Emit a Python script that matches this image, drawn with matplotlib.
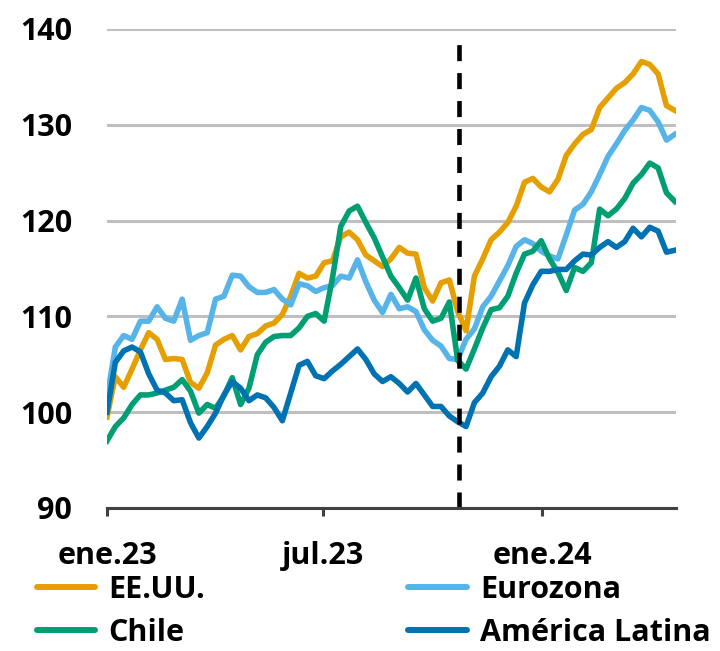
import matplotlib
matplotlib.use('Agg')
import matplotlib.pyplot as plt
from matplotlib.lines import Line2D
import pandas as pd

plt.rcParams['font.family'] = ['Open Sans', 'DejaVu Sans']
plt.rcParams['font.weight'] = 'bold'

# weekly index values (base ~100 at start of 2023)
dates = pd.date_range('2023-01-01', periods=69, freq='7D')

eeuu = [99.5, 103.7, 102.6, 104.5, 106.5, 108.3, 107.6, 105.5, 105.6, 105.5,
        103.1, 102.5, 104.1, 107.0, 107.6, 108.0, 106.5, 107.9, 108.2, 109.0,
        109.3, 110.2, 112.1, 114.5, 114.0, 114.2, 115.6, 115.8, 118.3, 118.8,
        118.0, 116.4, 115.8, 115.2, 116.0, 117.2, 116.6, 116.5, 113.0, 111.6,
        113.5, 113.8, 110.5, 108.5, 114.2, 116.0, 118.0, 118.8, 119.8, 121.5,
        124.0, 124.4, 123.5, 123.0, 124.3, 126.8, 128.0, 129.0, 129.5, 131.8,
        132.8, 133.8, 134.4, 135.3, 136.6, 136.3, 135.3, 132.0, 131.5]

eurozona = [101.5, 106.8, 108.0, 107.6, 109.5, 109.5, 111.0, 109.8, 109.5, 111.8,
            107.5, 108.0, 108.3, 111.8, 112.1, 114.3, 114.2, 113.1, 112.5, 112.5,
            112.8, 111.8, 111.2, 113.4, 113.2, 112.6, 113.0, 113.2, 114.2, 114.0,
            115.9, 113.6, 111.7, 110.4, 112.3, 110.8, 111.0, 110.5, 108.6, 107.5,
            106.9, 105.6, 105.5, 107.6, 108.7, 111.0, 112.1, 113.7, 115.3, 117.3,
            118.0, 117.6, 116.8, 116.3, 116.0, 118.5, 121.1, 121.7, 123.0, 124.8,
            126.7, 128.0, 129.4, 130.5, 131.8, 131.5, 130.3, 128.4, 129.0]

chile = [97.0, 98.5, 99.4, 100.8, 101.8, 101.8, 102.0, 102.3, 102.6, 103.4,
         102.2, 99.9, 100.8, 100.4, 101.7, 103.6, 100.8, 102.5, 106.0, 107.3,
         107.9, 108.0, 108.0, 108.8, 110.0, 110.3, 109.5, 114.0, 119.4, 121.0,
         121.5, 119.8, 118.2, 116.2, 114.2, 113.0, 111.7, 114.0, 110.8, 109.5,
         109.8, 111.5, 105.4, 104.5, 106.6, 108.8, 110.7, 110.9, 112.1, 114.5,
         116.5, 116.8, 117.9, 116.0, 114.6, 112.7, 115.1, 114.7, 115.6, 121.2,
         120.5, 121.2, 122.3, 123.9, 124.8, 126.0, 125.5, 122.9, 122.0]

latam = [100.0, 105.2, 106.4, 106.8, 106.3, 104.0, 102.3, 102.0, 101.2, 101.3,
         98.9, 97.3, 98.5, 99.9, 101.8, 103.2, 102.5, 101.2, 101.8, 101.5,
         100.5, 99.1, 102.0, 104.9, 105.3, 103.8, 103.5, 104.3, 105.0, 105.8,
         106.6, 105.5, 104.0, 103.2, 103.7, 103.0, 102.1, 103.0, 101.8, 100.6,
         100.6, 99.6, 99.0, 98.5, 101.0, 102.0, 103.7, 104.8, 106.5, 105.8,
         111.4, 113.3, 114.7, 114.7, 114.9, 114.9, 115.8, 116.5, 116.4, 117.2,
         117.8, 117.2, 117.8, 119.2, 118.3, 119.3, 118.9, 116.7, 116.9]

names = ['EE.UU.', 'Eurozona', 'Chile', 'América Latina']
colors = ['#E69F00', '#56B4E9', '#009E73', '#0072B2']
series = [eeuu, eurozona, chile, latam]

fig = plt.figure(figsize=(7.2, 6.51), dpi=100)
ax = fig.add_axes([0.1486, 0.2197, 0.7903, 0.7358])

for s, c in zip(series, colors):
    ax.plot(dates, s, color=c, lw=4, solid_joinstyle='round')

ax.axvline(pd.Timestamp('2023-10-23'), ymin=0, ymax=0.983, color='black',
           lw=3.3, ls=(0, (3.5, 2.6)))

ax.set_ylim(90, 140)
ax.set_yticks(range(90, 141, 10))
ax.set_xlim(pd.Timestamp('2023-01-01'), pd.Timestamp('2024-04-22'))
ax.set_xticks(pd.to_datetime(['2023-01-01', '2023-07-01', '2024-01-01']))
ax.xaxis.set_major_formatter(plt.FixedFormatter(['ene.23', 'jul.23', 'ene.24']))

ax.grid(axis='y', color='#bfbfbf', lw=2.2)
ax.set_axisbelow(True)
for side in ['left', 'right', 'top']:
    ax.spines[side].set_visible(False)
ax.spines['bottom'].set_color('#404040')
ax.spines['bottom'].set_linewidth(2.2)
ax.tick_params(axis='x', direction='out', length=6, width=2.2, color='#404040',
               pad=18, labelsize=22)
ax.tick_params(axis='y', length=0, pad=25, labelsize=22)

# legend filled row by row: EE.UU. / Eurozona, Chile / América Latina
order = [0, 2, 1, 3]
handles = [Line2D([], [], color=colors[i], lw=4.3, solid_capstyle='round') for i in order]
fig.legend(handles, [names[i] for i in order], loc='upper left',
           bbox_to_anchor=(0.051, 0.117), ncol=2, frameon=False, fontsize=22,
           borderpad=0, borderaxespad=0, handlelength=1.9, handletextpad=0.45,
           columnspacing=6.65, labelspacing=0.42)

fig.savefig('out.png', dpi=100)
